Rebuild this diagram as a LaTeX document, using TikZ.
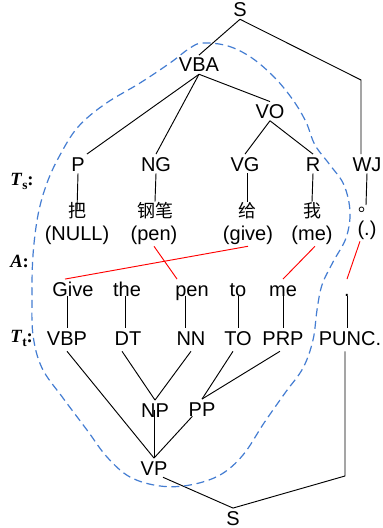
\documentclass[tikz,border=0pt]{standalone}
\usepackage{fontspec}
\setmainfont{Liberation Sans}
\newfontfamily\cjk{Noto Sans CJK SC}
\newfontfamily\lbl{Liberation Serif}
\usetikzlibrary{calc}
\definecolor{blobblue}{RGB}{68,125,210}
\begin{document}
\begin{tikzpicture}[x=0.75pt,y=-0.75pt,
  tagn/.style={anchor=base,inner sep=1.5pt,text height=11pt,text depth=0pt,font=\fontsize{15pt}{18pt}\selectfont},
  ttag/.style={tagn,text depth=3pt},
  wordn/.style={anchor=base,inner sep=1.5pt,text height=11pt,text depth=3pt,font=\fontsize{15pt}{18pt}\selectfont},
  zh/.style={anchor=base,inner sep=0pt,font=\cjk\fontsize{13.5pt}{16pt}\selectfont},
  sidelbl/.style={anchor=base west,inner sep=0pt,font=\lbl\bfseries\fontsize{14pt}{16pt}\selectfont},
  tline/.style={line width=0.7pt,black},
  alnk/.style={line width=0.7pt,red},
  blob/.style={line width=0.9pt,blobblue,dash pattern=on 6pt off 3.5pt}]
\fill[white] (0,0) rectangle (382,528);
\useasboundingbox (0,0) rectangle (382,528);

% side labels
\node[sidelbl] (Ts) at (10,185) {\textit{T}\raisebox{-3pt}{\fontsize{10pt}{10pt}\selectfont s}:};
\node[sidelbl] (Al) at (10,267) {\textit{A}:};
\node[sidelbl] (Tt) at (10,342) {\textit{T}\raisebox{-3pt}{\fontsize{10pt}{10pt}\selectfont t}:};

% source tree
\node[tagn] (S1) at (240,17) {S};
\node[tagn] (VBA) at (199,72) {VBA};
\node[tagn] (VO) at (270,118.5) {VO};
\node[tagn] (P) at (78,171) {P};
\node[tagn] (NG) at (156,171) {NG};
\node[tagn] (VG) at (245,171) {VG};
\node[tagn] (R) at (313,171) {R};
\node[tagn] (WJ) at (367,171) {WJ};

\node[zh] (ba) at (77,217) {把};
\node[zh] (gangbi) at (155,217) {钢笔};
\node[zh] (gei) at (247,217) {给};
\node[zh] (wo) at (312,217) {我};
\node[zh] (juhao) at (367,211) {。};

\node[wordn] (pnull) at (77,240) {(NULL)};
\node[wordn] (ppen) at (154,240) {(pen)};
\node[wordn] (pgive) at (248,240) {(give)};
\node[wordn] (pme) at (312,240) {(me)};
\node[wordn] (pdot) at (367,235) {(.)};

% target words
\node[wordn] (Give) at (73,296) {Give};
\node[wordn] (the) at (127,296) {the};
\node[wordn] (pen) at (192,296) {pen};
\node[wordn] (to) at (238,296) {to};
\node[wordn] (me) at (283,296) {me};
\node[wordn] (dot) at (347,296) {.};

% target tree
\node[ttag] (VBP) at (67,345) {VBP};
\node[ttag] (DT) at (128,345) {DT};
\node[ttag] (NN) at (191,345) {NN};
\node[ttag] (TO) at (238,345) {TO};
\node[ttag] (PRP) at (283,345) {PRP};
\node[ttag] (PUNC) at (350,345) {PUNC.};
\node[tagn] (NP) at (155,417) {NP};
\node[tagn] (PP) at (202,416) {PP};
\node[tagn] (VP) at (154,475) {VP};
\node[tagn] (S2) at (233,525) {S};

% source connectors
\coordinate (c1) at (361,80);
\draw[tline] (S1.south) -- (VBA.north);
\draw[tline] (S1.south) -- (c1) -- (c1 |- WJ.north);
\draw[tline] (VBA.south) -- (P.north east);
\draw[tline] (VBA.south) -- (NG.north);
\draw[tline] (VBA.south) -- (VO.north);
\draw[tline] (VO.south) -- (VG.north);
\draw[tline] (VO.south) -- (R.north);
\draw[tline] (P.south) -- (ba.center);
\draw[tline] (NG.south) -- (gangbi.north);
\draw[tline] (gei.north |- VG.south) -- (gei.north);
\draw[tline] (R.south) -- (wo.north);
\coordinate (c2) at (366,205);
\draw[tline] (WJ.south) -- (c2);

% alignment
\draw[alnk] (ppen.south) -- ($(pen.north west)+(4,0)$);
\draw[alnk] (pgive.south) -- ($(Give.north)+(-8,0)$);
\draw[alnk] ($(pme.south)+(3,0)$) -- (me.north);
\draw[alnk] ($(pdot.south)+(-7,0)$) -- (dot.north);

% word to tag
\draw[tline] (Give.base -| VBP.north) -- (VBP.north);
\draw[tline] ($(the.base)+(-2,0)$) coordinate (tb) -- (tb |- DT.north);
\draw[tline] ($(pen.base)+(-7,0)$) coordinate (pb) -- (pb |- NN.north);
\draw[tline] (to.base) -- (to.base |- TO.north);
\draw[tline] (me.base) -- (me.base |- PRP.north);
\draw[tline] (dot.base) -- (dot.base |- PUNC.north);

% target tree connectors
\draw[tline] (VBP.south) -- (VP.north);
\draw[tline] ($(DT.south)+(-6,0)$) -- (NP.north);
\draw[tline] (NN.south) -- (NP.north);
\draw[tline] ($(TO.south)+(-5,0)$) -- (PP.north);
\draw[tline] ($(PRP.south)+(-3,0)$) -- (PP.north);
\draw[tline] ($(NP.center)+(-1,0)$) -- (VP.north);
\draw[tline] ($(PP.south west)+(6,-2)$) -- (VP.north);
\draw[tline] ($(VP.south)+(9,0)$) -- (S2.north);
\coordinate (c3) at (345,476);
\draw[tline] (S2.north) -- (c3) -- (c3 |- PUNC.south);

% dashed region
\draw[blob] plot[smooth cycle, tension=0.6] coordinates {
 (203,43) (228,46) (252,58) (275,78) (293,100) (306,122) (315,145) (330,165)
 (344,185) (350,212) (346,238) (333,262) (322,285) (317,310) (313,340) (303,368)
 (285,393) (264,423) (243,455) (220,475) (190,485) (160,486) (130,477) (107,457)
 (87,430) (63,398) (42,368) (33,335) (32,295) (33,255) (38,215) (47,183)
 (60,155) (78,127) (105,104) (140,83) (170,63) (190,48)};
\end{tikzpicture}
\end{document}
